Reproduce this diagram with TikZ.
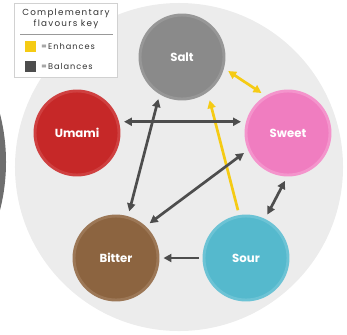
\documentclass[tikz,border=0pt]{standalone}
\usepackage{fontspec}
\setmainfont{Poppins}
\usetikzlibrary{arrows.meta}
\definecolor{plate}{HTML}{ECECEC}
\definecolor{rimgray}{HTML}{6E6E6E}
\definecolor{saltcol}{HTML}{8A8A8A}
\definecolor{saltrim}{HTML}{979797}
\definecolor{umamicol}{HTML}{C62828}
\definecolor{umamirim}{HTML}{CF4040}
\definecolor{sweetcol}{HTML}{F07DC0}
\definecolor{sweetrim}{HTML}{F494CC}
\definecolor{bittercol}{HTML}{8C6440}
\definecolor{bitterrim}{HTML}{9C7756}
\definecolor{sourcol}{HTML}{55B9CD}
\definecolor{sourrim}{HTML}{6CC3D5}
\definecolor{enhance}{HTML}{F5CB14}
\definecolor{balance}{HTML}{4D4D4D}
\tikzset{flavtip/.tip={Triangle[length=2.4mm, width=2.4mm]}}

\begin{document}
\begin{tikzpicture}[x=0.03cm, y=-0.03cm,
  flavour/.style={circle, minimum size=2.52cm, inner sep=0pt, line width=2.5pt,
    text=white, font=\fontsize{10}{12}\selectfont\bfseries},
  balances/.style={balance, line width=2.3pt, shorten <=0.15cm, shorten >=0.15cm},
  enhances/.style={enhance, line width=2.3pt, shorten <=0.15cm, shorten >=0.15cm},
  keybox/.style={minimum size=0.33cm, inner sep=0pt},
  keytext/.style={anchor=west, inner sep=0pt, text=black!80,
    font=\addfontfeature{LetterSpace=12}\fontsize{7}{8}\selectfont}]
  \useasboundingbox (0,0) rectangle (347,334);

  % Plate and the rim peeking in on the left
  \begin{scope}
    \clip (0,0) rectangle (347,334);
    \fill[rimgray] (-189,162) circle (5.85cm);
    \fill[plate] (179,167) circle (4.92cm);
  \end{scope}

  % Key
  \filldraw[fill=white, draw=black!18, line width=0.6pt] (14,3) rectangle (117,77);
  \node[align=center, text=black!80, font=\addfontfeature{LetterSpace=14}\fontsize{7.5}{9.5}\selectfont]
    (keytitle) at (66,19) {Complementary\\flavours key};
  \draw[black!40, line width=0.7pt] (20,34) -- (113,34);
  \node[keybox, fill=enhance] (enhbox) at (30,46) {};
  \node[keytext] (enhtext) at (41,46) {=Enhances};
  \node[keybox, fill=balance] (balbox) at (30,66) {};
  \node[keytext] (baltext) at (41,66) {=Balances};

  % Flavours
  \node[flavour, fill=saltcol, draw=saltrim] (salt) at (182,57) {Salt};
  \node[flavour, fill=umamicol, draw=umamirim] (umami) at (77,133) {Umami};
  \node[flavour, fill=sweetcol, draw=sweetrim] (sweet) at (288,133) {Sweet};
  \node[flavour, fill=bittercol, draw=bitterrim] (bitter) at (116,258) {Bitter};
  \node[flavour, fill=sourcol, draw=sourrim] (sour) at (246,258) {Sour};

  % Pairings
  \draw[enhances, flavtip-flavtip] (salt.-15) -- (sweet.121);
  \draw[enhances, -flavtip, shorten >=0.25cm] (sour.99) -- (salt.-54);
  \draw[balances, flavtip-flavtip] (umami.15) -- (sweet.165);
  \draw[balances, flavtip-flavtip] (bitter.74) -- (salt.-121);
  \draw[balances, flavtip-flavtip] (bitter.47) -- (sweet.203);
  \draw[balances, flavtip-flavtip] (sour.64) -- (sweet.-91);
  \draw[balances, -flavtip, shorten <=0.1cm, shorten >=0.12cm] (sour.180) -- (bitter.0);
\end{tikzpicture}
\end{document}
